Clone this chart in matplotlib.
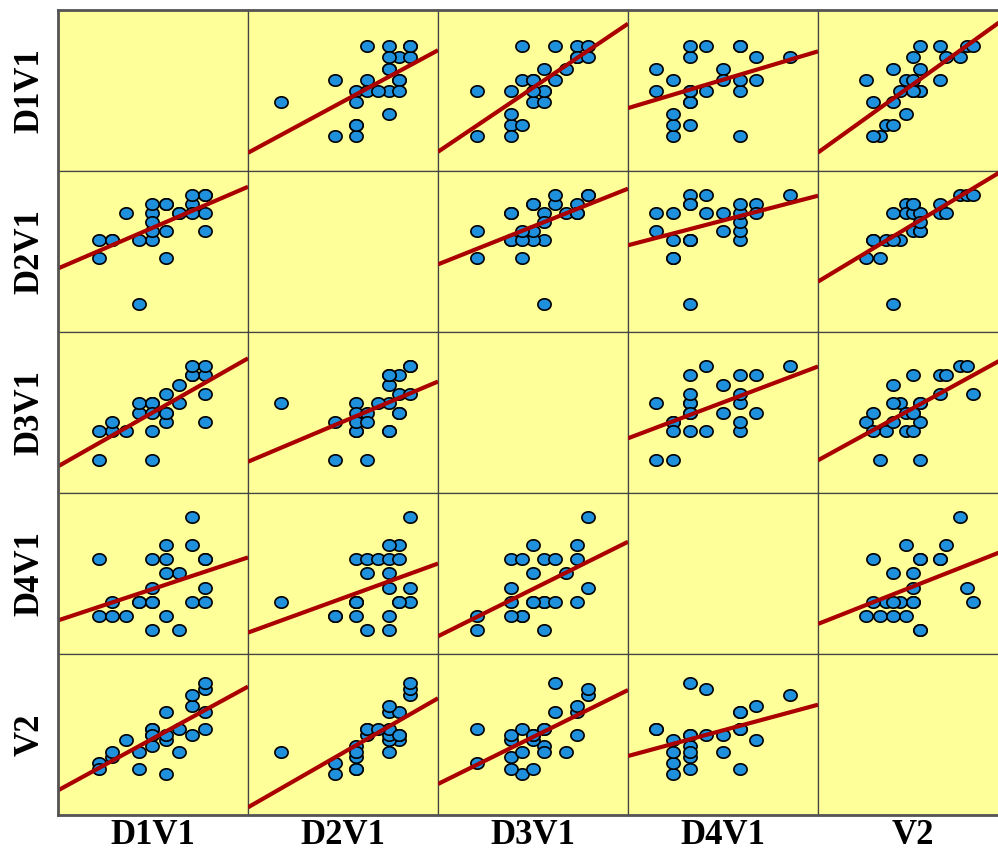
import numpy as np
import matplotlib
matplotlib.use("Agg")
from matplotlib import pyplot as plt
from matplotlib.path import Path

# scores of the 25 respondents on each scale
d1v1 = [5, 0, 1, 4, 3, 0, 6, 3, 1, 5, 2, 7, 5, 4, 4, 6, 8, 4, 8, 5, 7, 7, 8, 8, 4]
d2v1 = [5, 5, 7, 7, 7, 7, 10, 0, 7, 11, 10, 11, 8, 10, 8, 10, 8, 9, 10, 11, 10, 12, 12, 12, 11]
d3v1 = [4, 0, 3, 6, 5, 3, 8, 6, 4, 5, 3, 9, 5, 3, 0, 6, 4, 6, 9, 7, 9, 10, 10, 7, 5]
d4v1 = [1, 1, 2, 2, 2, 5, 4, 2, 1, 6, 1, 2, 4, 3, 0, 0, 5, 5, 5, 5, 6, 8, 3, 2, 2]
v2 = [0, 2, 3, 5, 1, 1, 4, 4, 4, 6, 6, 7, 7, 7, 8, 8, 8, 8, 11, 11, 12, 14, 15, 16, 7]
labels = ["D1V1", "D2V1", "D3V1", "D4V1", "V2"]

# axis ranges used for each variable (layout)
limits = [(-3.1, 11.2), (-3.1, 14.6), (-3.56, 13.6), (-1.7, 9.7), (-7.2, 21.2)]

BG = "#FFFF99"
DOT = "#1E90DC"
LINE = "#AA0000"


def ellipse_marker():
    t = np.linspace(0, 2 * np.pi, 60)
    verts = np.column_stack([np.cos(t), 0.86 * np.sin(t)])
    return Path(verts, closed=True)


def main():
    data = [np.array(v, dtype=float) for v in (d1v1, d2v1, d3v1, d4v1, v2)]
    n = len(data)
    fig = plt.figure(figsize=(9.98, 8.52), dpi=100)
    fig.patch.set_facecolor("white")

    W, H = 998.0, 852.0
    left, top = 58, 10
    cw, ch = 190, 161
    marker = ellipse_marker()

    for i in range(n):
        for j in range(n):
            x0 = (left + j * cw) / W
            y0 = 1 - (top + (i + 1) * ch) / H
            ax = fig.add_axes([x0, y0, cw / W, ch / H])
            ax.set_facecolor(BG)
            ax.set_xlim(limits[j])
            ax.set_ylim(limits[i])
            ax.set_xticks([])
            ax.set_yticks([])
            for s in ax.spines.values():
                s.set_color("#444444")
                s.set_linewidth(0.9)
            if i == j:
                continue
            x, y = data[j], data[i]
            ax.plot(x, y, linestyle="none", marker=marker, markersize=9.5,
                    markerfacecolor=DOT, markeredgecolor="black",
                    markeredgewidth=1.2, zorder=2)
            b, a = np.polyfit(x, y, 1)
            xs = np.array(limits[j])
            ax.plot(xs, a + b * xs, color=LINE, linewidth=3, zorder=3,
                    solid_capstyle="butt")

    # outer frame
    frame = fig.add_axes([left / W, 1 - (top + n * ch) / H, n * cw / W, n * ch / H])
    frame.patch.set_alpha(0)
    frame.set_xticks([])
    frame.set_yticks([])
    for s in frame.spines.values():
        s.set_color("#555555")
        s.set_linewidth(2)

    font = dict(family="Liberation Serif", fontweight="bold", fontsize=25)
    for k, name in enumerate(labels):
        cx = (left + (k + 0.5) * cw) / W
        fig.text(cx, 1 - 835 / H, name, ha="center", va="center", **font)
        cy = 1 - (top + (k + 0.5) * ch) / H
        fig.text(30 / W, cy, name, ha="center", va="center", rotation=90, **font)

    fig.savefig("out.png", dpi=100)


if __name__ == "__main__":
    main()
